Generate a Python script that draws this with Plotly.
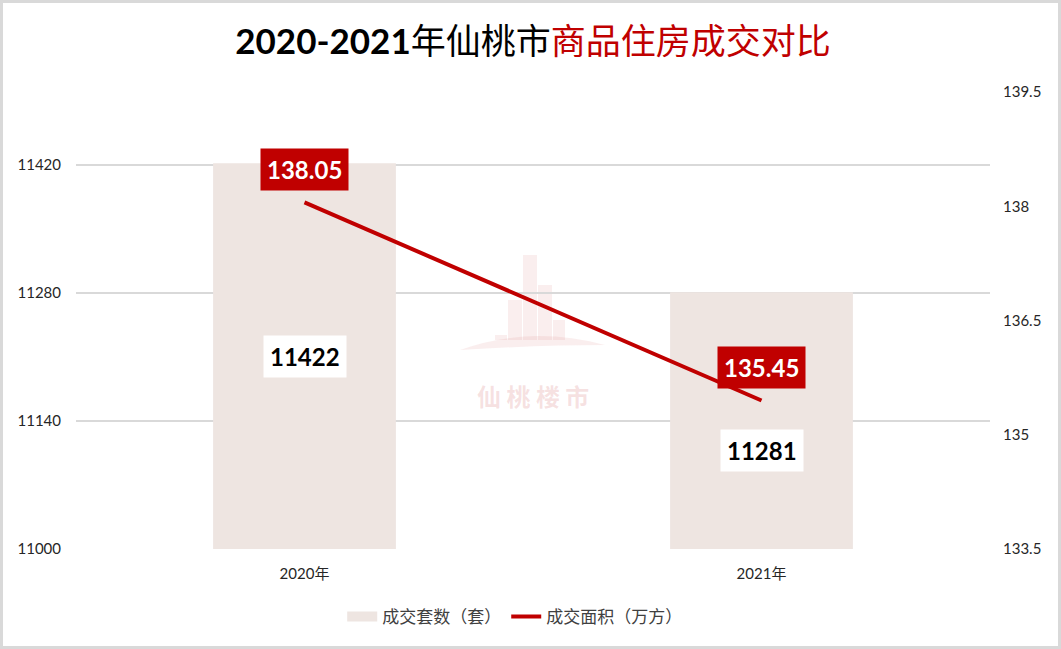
import plotly.graph_objects as go

years = ["2020年", "2021年"]
units_sold = [11422, 11281]
area_sold = [138.05, 135.45]
left_ticks = [11000, 11140, 11280, 11420]
right_ticks = [133.5, 135, 136.5, 138, 139.5]
bar_label_shift = [0, -30]

W, H = 1061, 649
L, R, T, B = 76, 71, 92, 100
pw, ph = W - L - R, H - T - B

RED = "#C00000"
BAR = "#EEE5E1"
NUMFONT = "Lato, Carlito, Calibri, 'Noto Sans', sans-serif"
CJK = "'Noto Sans CJK SC', sans-serif"

fig = go.Figure()
fig.add_trace(go.Bar(
    x=years, y=units_sold, name="成交套数（套）",
    marker=dict(color=BAR, line=dict(width=0)),
    width=0.4, yaxis="y", hoverinfo="skip", showlegend=False,
))
# legend-only swatch mimicking the wide bar swatch
fig.add_trace(go.Scatter(
    x=[None], y=[None], name="成交套数（套）", mode="lines",
    line=dict(color=BAR, width=12), yaxis="y", hoverinfo="skip",
))
fig.add_trace(go.Scatter(
    x=years, y=area_sold, name="成交面积（万方）",
    mode="lines", line=dict(color=RED, width=4),
    yaxis="y2", hoverinfo="skip",
))

annotations = []
for i, (yr, v) in enumerate(zip(years, units_sold)):
    annotations.append(dict(
        x=yr, y=(left_ticks[0] + v) / 2, xref="x", yref="y",
        text=f"<b>{v}</b>", showarrow=False, yshift=bar_label_shift[i],
        font=dict(family=NUMFONT, size=24, color="black"),
        bgcolor="white", borderpad=6,
    ))
for yr, v in zip(years, area_sold):
    annotations.append(dict(
        x=yr, y=v, xref="x", yref="y2",
        text=f"<b>{v:.2f}</b>", showarrow=False, yshift=33,
        font=dict(family=NUMFONT, size=24, color="white"),
        bgcolor=RED, borderpad=6,
    ))
# watermark
annotations.append(dict(
    x=0.5, y=(H - 395 - B) / ph, xref="paper", yref="paper",
    text="<b>仙 桃 楼 市</b>", showarrow=False,
    font=dict(family=CJK, size=24, color="rgba(214,120,120,0.22)"),
))

title_text = ("<b>2020-2021</b>年仙桃市"
              f"<span style='color:{RED}'>商品住房成交对比</span>")

shapes = [dict(
    type="rect", xref="paper", yref="paper",
    x0=(1.5 - L) / pw, x1=(W - 1.5 - L) / pw,
    y0=(1.5 - B) / ph, y1=(H - 1.5 - B) / ph,
    line=dict(color="#D9D9D9", width=3), fillcolor="rgba(0,0,0,0)", layer="below",
)]
# faint watermark building
bx = [(495, 335, 12), (508, 300, 14), (523, 255, 14), (538, 285, 14), (553, 320, 12)]
for cx, top, w in bx:
    shapes.append(dict(
        type="rect", xref="paper", yref="paper",
        x0=(cx - L) / pw, x1=(cx + w - L) / pw,
        y0=(H - 340 - B) / ph, y1=(H - top - B) / ph,
        line=dict(width=0), fillcolor="rgba(220,120,120,0.13)", layer="below",
    ))
shapes.append(dict(
    type="path", xref="paper", yref="paper",
    path=" ".join([
        f"M {(460 - L) / pw},{(H - 350 - B) / ph}",
        f"Q {(530 - L) / pw},{(H - 325 - B) / ph} {(605 - L) / pw},{(H - 345 - B) / ph}",
        f"Q {(540 - L) / pw},{(H - 345 - B) / ph} {(460 - L) / pw},{(H - 350 - B) / ph} Z",
    ]),
    line=dict(width=0), fillcolor="rgba(220,120,120,0.13)", layer="below",
))

fig.update_layout(
    width=W, height=H,
    margin=dict(l=L, r=R, t=T, b=B),
    paper_bgcolor="white", plot_bgcolor="white",
    title=dict(text=title_text, x=0.5, xanchor="center", xref="paper",
               y=1 - 42 / H, yanchor="middle",
               font=dict(family=f"Lato, {CJK}", size=35, color="black")),
    xaxis=dict(showgrid=False, showline=False, ticks="", zeroline=False,
               ticklabelstandoff=14,
               tickfont=dict(family=f"Lato, {CJK}", size=15, color="#262626"),
               range=[-0.5, 1.5]),
    yaxis=dict(range=[11000, 11500], tickvals=left_ticks,
               ticktext=[str(t) for t in left_ticks],
               showgrid=True, gridcolor="#D9D9D9", gridwidth=2,
               zeroline=False, showline=False, ticks="",
               ticklabelstandoff=14,
               tickfont=dict(family=NUMFONT, size=15, color="#262626")),
    yaxis2=dict(range=[133.5, 139.5], tickvals=right_ticks,
                ticktext=[f"{t:g}" for t in right_ticks],
                overlaying="y", side="right", showgrid=False,
                zeroline=False, showline=False, ticks="",
                ticklabelstandoff=12,
                tickfont=dict(family=NUMFONT, size=15, color="#262626")),
    legend=dict(orientation="h", x=0.48, xanchor="center",
                y=-(617 - 549) / ph, yanchor="middle",
                font=dict(family=CJK, size=17, color="#404040"),
                traceorder="normal"),
    annotations=annotations,
    shapes=shapes,
    bargap=0.6,
    showlegend=True,
)

fig.write_html("out.html", config={"displayModeBar": False},
               post_script="document.body.style.margin='0px';")
